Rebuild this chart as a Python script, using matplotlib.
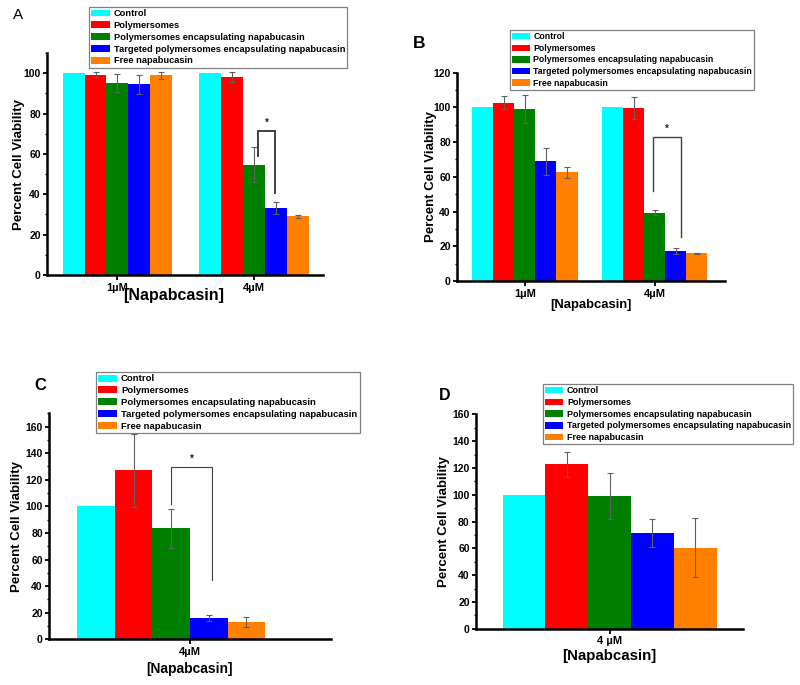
import matplotlib
matplotlib.use("Agg")
import matplotlib.pyplot as plt
from matplotlib.patches import Patch
from matplotlib.ticker import MultipleLocator

plt.rcParams["font.family"] = ["Liberation Sans", "DejaVu Sans"]
plt.rcParams["font.weight"] = "bold"

series = ["Control", "Polymersomes", "Polymersomes encapsulating napabucasin",
          "Targeted polymersomes encapsulating napabucasin", "Free napabucasin"]
colors = ["#00FFFF", "#FF0000", "#008000", "#0000FF", "#FF8000"]

# panel A (two doses), rows = series, cols = doses
a_doses = ["1µM", "4µM"]
a_vals = [[100, 100], [99.3, 98.1], [95.1, 54.7], [94.6, 33.0], [98.9, 29.1]]
a_errs = [[0, 0], [1.2, 2.7], [4.5, 8.7], [4.7, 3.0], [1.8, 0.7]]

# panel B
b_doses = ["1µM", "4µM"]
b_vals = [[100, 100], [102.7, 99.5], [99.1, 39.4], [68.9, 17.3], [62.6, 16.0]]
b_errs = [[0, 0], [3.7, 6.3], [8.0, 1.3], [8.0, 1.5], [3.0, 0.4]]

# panel C
c_doses = ["4µM"]
c_vals = [[100], [127.2], [83.5], [16.1], [13.3]]
c_errs = [[0], [27.5], [14.6], [2.3], [3.8]]

# panel D
d_doses = ["4 µM"]
d_vals = [[100], [122.7], [99.0], [71.2], [60.5]]
d_errs = [[0], [9.4], [17.2], [10.5], [22.0]]

# significance brackets: (x_left, x_right, y_top, y_left_end, y_right_end)
a_bracket = (2.03, 2.155, 71.3, 58.9, 40.4)
b_bracket = (1.985, 2.2, 83.1, 52.0, 25.5)
c_bracket = (0.932, 1.079, 129.8, 102.0, 44.8)

W, H = 800, 685
fig = plt.figure(figsize=(W / 100, H / 100), dpi=100)


def px_axes(left, right, top, bottom):
    return fig.add_axes([left / W, 1 - bottom / H, (right - left) / W, (bottom - top) / H])


def draw_panel(ax, doses, vals, errs, width, shift, xlim, ylim, bracket=None, bracket_lw=1.0,
               ylabelpad=0, xlabelsize=10, xlabelpad=0):
    centers = list(range(1, len(doses) + 1))
    for i, (v, e, col) in enumerate(zip(vals, errs, colors)):
        xs = [c + (i - 2) * width + shift for c in centers]
        ax.bar(xs, v, width=width, color=col, linewidth=0, zorder=2)
        ex = [x for x, err in zip(xs, e) if err > 0]
        ev = [y for y, err in zip(v, e) if err > 0]
        ee = [err for err in e if err > 0]
        if ee:
            ax.errorbar(ex, ev, yerr=ee, fmt="none", ecolor="#606060",
                        elinewidth=0.8, capsize=2, capthick=0.8, zorder=3)
    if bracket:
        xl, xr, yt, yl, yr = bracket
        ax.plot([xl, xl, xr, xr], [yl, yt, yt, yr], color="#404040", lw=bracket_lw,
                solid_joinstyle="miter", zorder=4)
        ax.text((xl + xr) / 2, yt + (ylim[1] * 0.015), "*", ha="center", va="bottom",
                fontsize=7, color="#202020")
    ax.set_xlim(*xlim)
    ax.set_ylim(*ylim)
    ax.set_xticks(centers)
    ax.set_xticklabels(doses, fontsize=8, fontweight="bold")
    ax.yaxis.set_major_locator(MultipleLocator(20))
    ax.yaxis.set_minor_locator(MultipleLocator(10))
    ax.tick_params(axis="y", which="major", labelsize=7.5, length=3, width=1.3,
                   direction="out", pad=1.5)
    ax.tick_params(axis="y", which="minor", length=1.5, width=1.0, direction="out")
    ax.tick_params(axis="x", length=3.5, width=1.3, direction="out", pad=2)
    for lab in ax.get_yticklabels():
        lab.set_fontweight("bold")
    for s in ["top", "right"]:
        ax.spines[s].set_visible(False)
    for s in ["left", "bottom"]:
        ax.spines[s].set_linewidth(1.8)
    ax.set_ylabel("Percent Cell Viability", fontsize=9.5, fontweight="bold", labelpad=ylabelpad)
    ax.set_xlabel("[Napabcasin]", fontsize=xlabelsize, fontweight="bold", labelpad=xlabelpad)


def add_legend(ax, x, y, size):
    handles = [Patch(facecolor=c, edgecolor="none") for c in colors]
    leg = ax.legend(handles, series, loc="upper left", bbox_to_anchor=(x / W, 1 - y / H),
                    bbox_transform=fig.transFigure, borderaxespad=0, fancybox=False,
                    fontsize=size, handlelength=2.0, handleheight=0.75, handletextpad=0.4,
                    labelspacing=0.3, borderpad=0.25, framealpha=1)
    leg.get_frame().set_edgecolor("#808080")
    leg.get_frame().set_linewidth(0.9)
    for t in leg.get_texts():
        t.set_fontweight("bold")


ax_a = px_axes(47, 323, 53, 275)
draw_panel(ax_a, a_doses, a_vals, a_errs, 0.16, 0, (0.485, 2.505), (0, 110), a_bracket, 1.4,
           ylabelpad=-1, xlabelsize=11.5, xlabelpad=-3)
ax_a.xaxis.label.set_x(0.46)  # label sits a bit left of centre in the original
add_legend(ax_a, 89, 7, 6.7)

ax_b = px_axes(457, 725, 72.7, 281)
draw_panel(ax_b, b_doses, b_vals, b_errs, 0.162, 0, (0.476, 2.542), (0, 120), b_bracket, 1.0,
           ylabelpad=-2.5, xlabelsize=9.4, xlabelpad=0)
add_legend(ax_b, 510, 30, 6.3)

ax_c = px_axes(49, 331, 413.3, 639.3)
draw_panel(ax_c, c_doses, c_vals, c_errs, 0.133, -0.0665, (0.5, 1.5), (0, 170), c_bracket, 0.8,
           ylabelpad=2, xlabelsize=10, xlabelpad=4)
add_legend(ax_c, 96, 372, 6.8)

ax_d = px_axes(476, 743.3, 414.3, 628.7)
draw_panel(ax_d, d_doses, d_vals, d_errs, 0.16, 0, (0.5, 1.5), (0, 160),
           ylabelpad=1.5, xlabelsize=10.8, xlabelpad=2)
add_legend(ax_d, 543, 384, 6.5)

fig.text(18 / W, 1 - 15 / H, "A", ha="center", va="center", fontsize=11, fontweight="normal")
fig.text(419 / W, 1 - 44 / H, "B", ha="center", va="center", fontsize=12.5, fontweight="bold")
fig.text(40 / W, 1 - 385 / H, "C", ha="center", va="center", fontsize=12, fontweight="bold")
fig.text(445 / W, 1 - 396 / H, "D", ha="center", va="center", fontsize=11.5, fontweight="bold")

fig.savefig("out.png", dpi=100)
